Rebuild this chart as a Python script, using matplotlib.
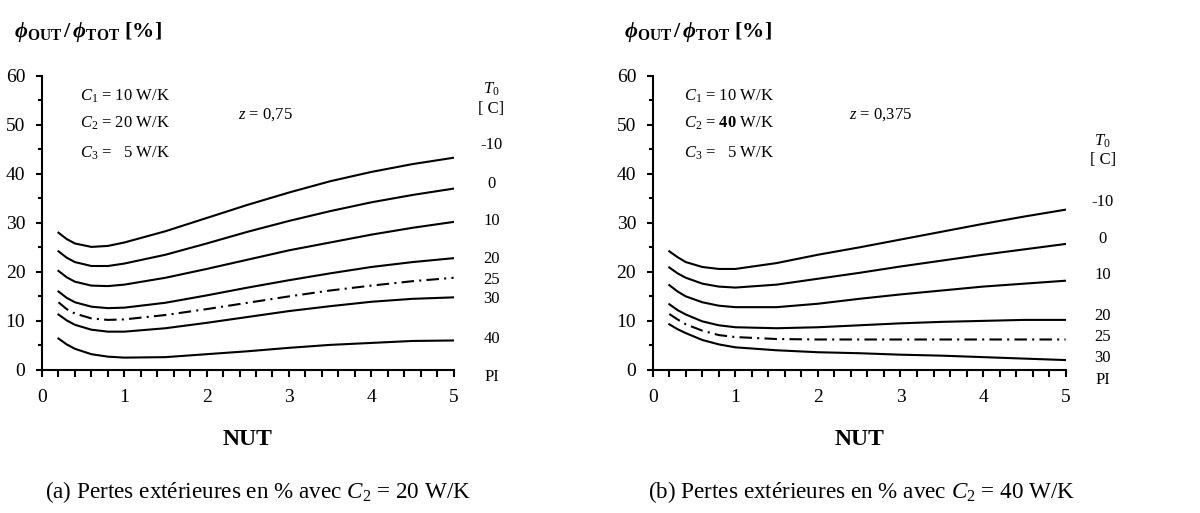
import matplotlib
matplotlib.use("Agg")
import matplotlib.pyplot as plt
from matplotlib.ticker import MultipleLocator

plt.rcParams['font.family'] = ['Liberation Serif', 'DejaVu Serif']
plt.rcParams['mathtext.fontset'] = 'custom'
plt.rcParams['mathtext.rm'] = 'Liberation Serif'
plt.rcParams['mathtext.it'] = 'Liberation Serif:italic'
plt.rcParams['mathtext.bf'] = 'Liberation Serif:bold'
plt.rcParams['mathtext.bfit'] = 'Liberation Serif:bold:italic'

# ---- data ----
nut = [0.2, 0.3, 0.4, 0.6, 0.8, 1.0, 1.5, 2.0, 2.5, 3.0, 3.5, 4.0, 4.5, 5.0]

# panel (a) C2 = 20 W/K
a_m10 = [28.0, 26.7, 25.8, 25.1, 25.3, 26.0, 28.3, 31.0, 33.7, 36.2, 38.5, 40.4, 42.0, 43.3]
a_0   = [24.2, 22.9, 22.0, 21.2, 21.2, 21.7, 23.5, 25.8, 28.2, 30.4, 32.4, 34.2, 35.7, 37.0]
a_10  = [20.2, 18.9, 18.0, 17.2, 17.1, 17.4, 18.8, 20.6, 22.5, 24.4, 26.0, 27.6, 29.0, 30.2]
a_20  = [16.0, 14.7, 13.8, 12.9, 12.6, 12.7, 13.7, 15.2, 16.8, 18.3, 19.7, 21.0, 22.0, 22.8]
a_25  = [13.8, 12.4, 11.5, 10.5, 10.2, 10.3, 11.2, 12.4, 13.7, 15.0, 16.2, 17.2, 18.1, 18.8]
a_30  = [11.3, 10.1, 9.2, 8.2, 7.8, 7.8, 8.5, 9.6, 10.8, 12.0, 13.0, 13.9, 14.5, 14.8]
a_40  = [6.4, 5.2, 4.3, 3.2, 2.7, 2.5, 2.6, 3.2, 3.8, 4.5, 5.1, 5.5, 5.9, 6.0]

# panel (b) C2 = 40 W/K
b_m10 = [24.2, 23.0, 22.0, 21.0, 20.6, 20.6, 21.8, 23.5, 25.0, 26.6, 28.2, 29.8, 31.3, 32.7]
b_0   = [20.9, 19.7, 18.8, 17.6, 17.0, 16.8, 17.4, 18.6, 19.8, 21.1, 22.3, 23.5, 24.6, 25.7]
b_10  = [17.3, 16.0, 15.0, 13.8, 13.1, 12.8, 12.8, 13.5, 14.5, 15.4, 16.2, 17.0, 17.6, 18.2]
b_20  = [13.4, 12.2, 11.3, 9.9, 9.1, 8.7, 8.5, 8.7, 9.1, 9.5, 9.8, 10.0, 10.2, 10.2]
b_25  = [11.4, 10.3, 9.3, 8.0, 7.1, 6.7, 6.3, 6.2, 6.2, 6.2, 6.2, 6.2, 6.2, 6.2]
b_30  = [9.3, 8.3, 7.5, 6.1, 5.2, 4.6, 4.0, 3.6, 3.4, 3.1, 2.9, 2.6, 2.3, 2.0]

a_series = [a_m10, a_0, a_10, a_20, a_25, a_30, a_40]
a_dashed = [False, False, False, False, True, False, False]
b_series = [b_m10, b_0, b_10, b_20, b_25, b_30]
b_dashed = [False, False, False, False, True, False]

a_labels = ['-10', '0', '10', '20', '25', '30', '40', 'PI']
a_label_y = [45.8, 38.0, 30.4, 22.6, 18.4, 14.4, 6.2, -1.4]
b_labels = ['-10', '0', '10', '20', '25', '30', 'PI']
b_label_y = [34.3, 26.8, 19.4, 11.0, 6.7, 2.4, -2.0]

fig = plt.figure(figsize=(12, 5.13), dpi=100)
ax_a = fig.add_axes([0.035, 0.279, 0.343, 0.573])
ax_b = fig.add_axes([0.544, 0.279, 0.344, 0.573])

def style(ax):
    ax.set_xlim(0, 5)
    ax.set_ylim(0, 60)
    for s in ['top', 'right']:
        ax.spines[s].set_visible(False)
    for s in ['left', 'bottom']:
        ax.spines[s].set_linewidth(1.5)
    ax.xaxis.set_major_locator(MultipleLocator(1))
    ax.xaxis.set_minor_locator(MultipleLocator(0.2))
    ax.yaxis.set_major_locator(MultipleLocator(10))
    ax.yaxis.set_minor_locator(MultipleLocator(5))
    ax.tick_params(which='both', direction='out', width=1.5, labelsize=14)
    ax.tick_params(axis='x', which='major', length=5, pad=9)
    ax.tick_params(axis='x', which='minor', length=5)
    ax.tick_params(axis='y', which='major', length=4, pad=8)
    ax.tick_params(axis='y', which='minor', length=3)
    ax.set_xlabel('NUT', fontsize=17, fontweight='bold', labelpad=16)

for ax, series, dashed in [(ax_a, a_series, a_dashed), (ax_b, b_series, b_dashed)]:
    style(ax)
    for ys, d in zip(series, dashed):
        if d:
            ax.plot(nut, ys, color='black', lw=1.5, dashes=(6, 2.5, 1, 2.5))
        else:
            ax.plot(nut, ys, color='black', lw=1.5)

# annotations panel a
ax_a.text(0.46, 55.9, r'$C_1$ = 10 W/K', fontsize=12, va='center')
ax_a.text(0.46, 50.4, r'$C_2$ = 20 W/K', fontsize=12, va='center')
ax_a.text(0.46, 44.3, r'$C_3$ =   5 W/K', fontsize=12, va='center')
ax_a.text(2.38, 52.0, r'$z$ = 0,75', fontsize=12, va='center')
ax_a.text(5.46, 57.3, r'$T_0$', fontsize=12, ha='center', va='center', clip_on=False)
ax_a.text(5.46, 53.2, '[ C]', fontsize=12, ha='center', va='center', clip_on=False)
for lab, yv in zip(a_labels, a_label_y):
    ax_a.text(5.46, yv, lab, fontsize=12, ha='center', va='center', clip_on=False)

# annotations panel b
ax_b.text(0.38, 55.9, r'$C_1$ = 10 W/K', fontsize=12, va='center')
ax_b.text(0.38, 50.4, r'$C_2$ = $\mathbf{40}$ W/K', fontsize=12, va='center')
ax_b.text(0.38, 44.3, r'$C_3$ =   5 W/K', fontsize=12, va='center')
ax_b.text(2.38, 52.0, r'$z$ = 0,375', fontsize=12, va='center')
ax_b.text(5.45, 46.6, r'$T_0$', fontsize=12, ha='center', va='center', clip_on=False)
ax_b.text(5.45, 42.8, '[ C]', fontsize=12, ha='center', va='center', clip_on=False)
for lab, yv in zip(b_labels, b_label_y):
    ax_b.text(5.45, yv, lab, fontsize=12, ha='center', va='center', clip_on=False)

ylab = r'$\mathbfit{\phi}_{\mathbf{OUT}}\,\mathbf{/}\,\mathbfit{\phi}_{\mathbf{TOT}}\ \mathbf{[\%]}$'
fig.text(14/1200, 1 - 32/513, ylab, fontsize=16, va='center', ha='left')
fig.text(624/1200, 1 - 32/513, ylab, fontsize=16, va='center', ha='left')

fig.text(258/1200, 1 - 492/513, r'(a) Pertes extérieures en % avec $C_2$ = 20 W/K',
         fontsize=16.7, ha='center', va='center')
fig.text(862/1200, 1 - 492/513, r'(b) Pertes extérieures en % avec $C_2$ = 40 W/K',
         fontsize=16.7, ha='center', va='center')

fig.savefig('out.png', dpi=100)
